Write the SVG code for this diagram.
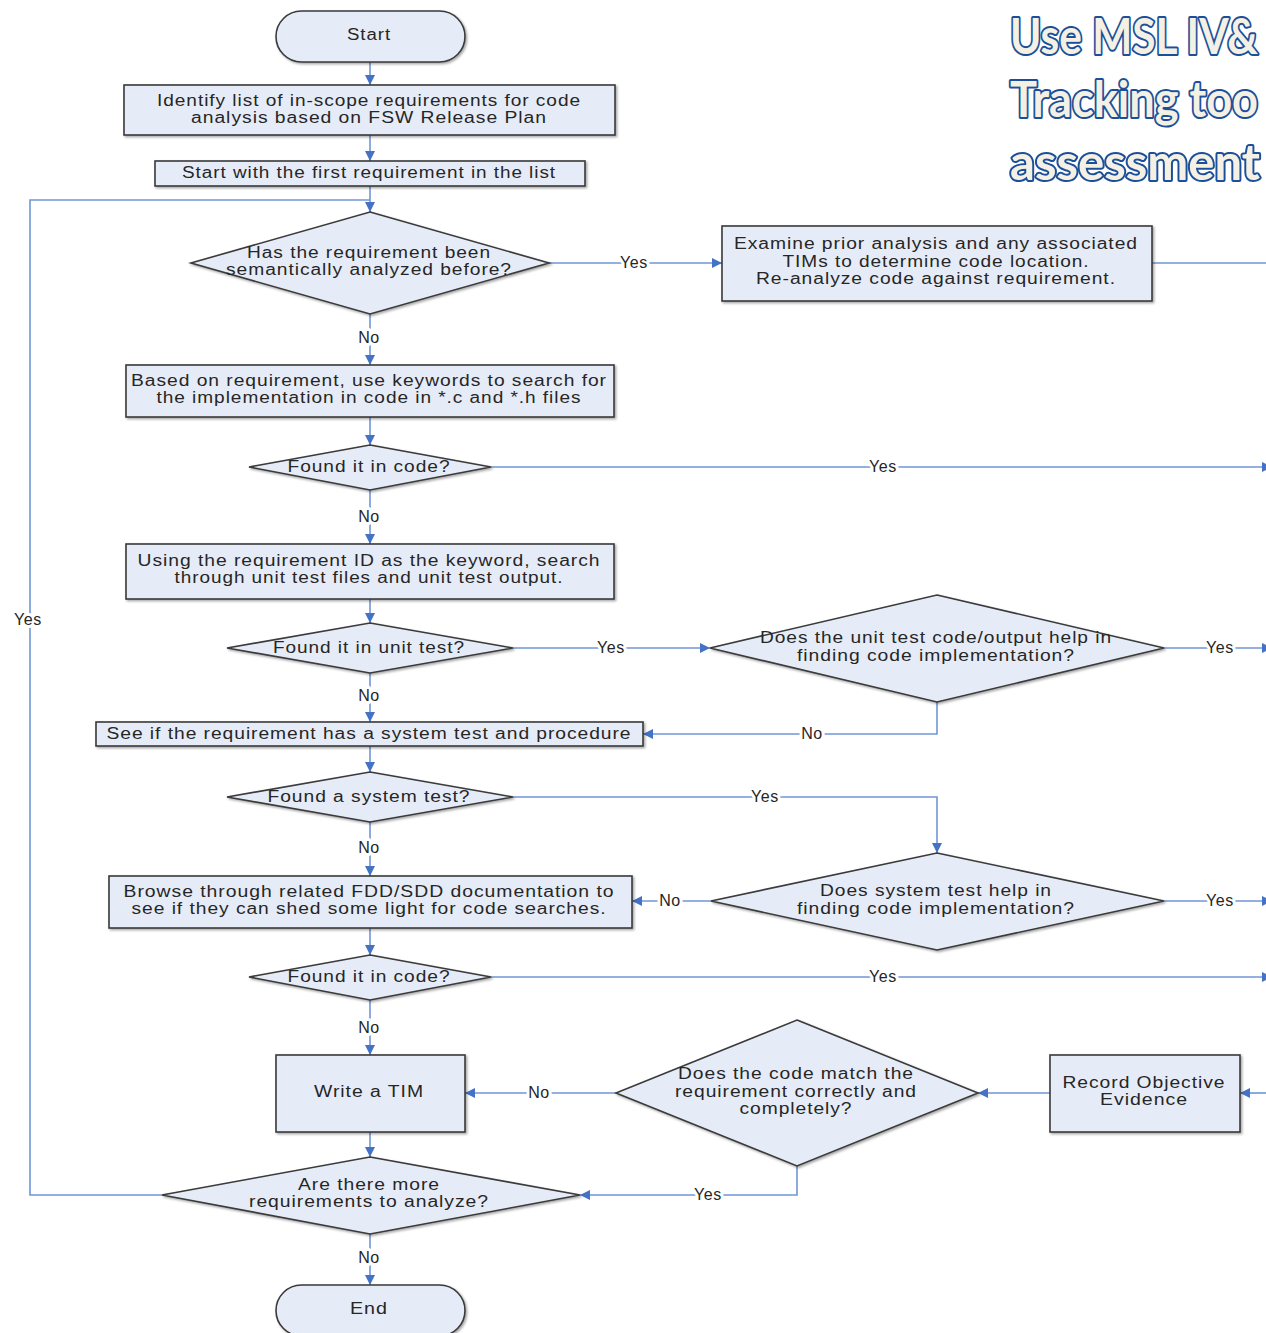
<svg xmlns="http://www.w3.org/2000/svg" width="1266" height="1333" viewBox="0 0 1266 1333">
  <defs>
    <marker id="arr" viewBox="0 0 10 10" refX="10" refY="5" markerWidth="10" markerHeight="10" markerUnits="userSpaceOnUse" orient="auto">
      <path d="M0,0 L10,5 L0,10 z" fill="#4472c4"/>
    </marker>
    <filter id="sh" x="-5%" y="-5%" width="115%" height="120%">
      <feDropShadow dx="1.5" dy="1.5" stdDeviation="0.8" flood-color="#000" flood-opacity="0.35"/>
    </filter>
  </defs>
  <style>
    .n { fill: #e6ecf7; stroke: #3a3a3a; stroke-width: 1.6; filter: url(#sh); }
    .t { font-family: "Liberation Sans", Arial, sans-serif; font-size: 16px; letter-spacing: 0.8px; fill: #262626; text-anchor: middle; }
    .c { fill: none; stroke: #6f96d6; stroke-width: 1.6; }
    .ca { fill: none; stroke: #6f96d6; stroke-width: 1.6; marker-end: url(#arr); }
    .l { font-family: "Liberation Sans", Arial, sans-serif; font-size: 16px; letter-spacing: 0.6px; fill: #262626; text-anchor: middle; stroke: #ffffff; stroke-width: 6px; paint-order: stroke; stroke-linejoin: round; }
    .title { font-family: Lato, "Open Sans", sans-serif; font-weight: bold; font-size: 49px; fill: #f4f1e4; stroke: #1c4f9a; stroke-width: 4px; paint-order: stroke; stroke-linejoin: round; }
  </style>

  <rect width="1266" height="1333" fill="#ffffff"/>

  <!-- title -->
  <g id="title">
    <text class="title" x="1010" y="54" textLength="248" lengthAdjust="spacingAndGlyphs">Use MSL IV&amp;</text>
    <text class="title" x="1010" y="117" textLength="248" lengthAdjust="spacingAndGlyphs">Tracking too</text>
    <text class="title" x="1010" y="180" textLength="250" lengthAdjust="spacingAndGlyphs">assessment</text>
  </g>

  <!-- connectors -->
  <g id="connectors">
    <path class="ca" d="M370,62 V85"/>
    <path class="ca" d="M370,135 V161"/>
    <path class="ca" d="M370,186 V212"/>
    <path class="ca" d="M549,263 H722"/>
    <path class="c" d="M1152,263 H1266"/>
    <path class="ca" d="M370,314 V365"/>
    <path class="ca" d="M370,417 V445"/>
    <path class="ca" d="M491,467 H1272"/>
    <path class="ca" d="M370,490 V544"/>
    <path class="ca" d="M370,599 V623"/>
    <path class="ca" d="M513,648 H710"/>
    <path class="ca" d="M1164,648 H1272"/>
    <path class="ca" d="M937,702 V734 H643"/>
    <path class="ca" d="M370,673 V722"/>
    <path class="ca" d="M370,746 V772"/>
    <path class="ca" d="M513,797 H937 V853"/>
    <path class="ca" d="M370,822 V876"/>
    <path class="ca" d="M711,901 H632"/>
    <path class="ca" d="M1164,901 H1272"/>
    <path class="ca" d="M370,928 V955"/>
    <path class="ca" d="M491,977 H1272"/>
    <path class="ca" d="M370,1000 V1055"/>
    <path class="ca" d="M616,1093 H465"/>
    <path class="ca" d="M1050,1093 H978"/>
    <path class="ca" d="M1266,1093 H1240"/>
    <path class="ca" d="M370,1132 V1157"/>
    <path class="ca" d="M797,1166 V1195 H580"/>
    <path class="c" d="M162,1195 H30 V200 H370"/>
    <path class="ca" d="M370,1234 V1285"/>

    <text class="l" x="634" y="268">Yes</text>
    <text class="l" x="369" y="343">No</text>
    <text class="l" x="883" y="472">Yes</text>
    <text class="l" x="369" y="522">No</text>
    <text class="l" x="611" y="653">Yes</text>
    <text class="l" x="1220" y="653">Yes</text>
    <text class="l" x="369" y="701">No</text>
    <text class="l" x="812" y="739">No</text>
    <text class="l" x="765" y="802">Yes</text>
    <text class="l" x="369" y="853">No</text>
    <text class="l" x="670" y="906">No</text>
    <text class="l" x="1220" y="906">Yes</text>
    <text class="l" x="883" y="982">Yes</text>
    <text class="l" x="369" y="1033">No</text>
    <text class="l" x="539" y="1098">No</text>
    <text class="l" x="708" y="1200">Yes</text>
    <text class="l" x="28" y="625">Yes</text>
    <text class="l" x="369" y="1263">No</text>
  </g>

  <!-- nodes -->
  <g id="start">
    <rect class="n" x="276" y="11" width="189" height="51" rx="25.5"/>
    <text class="t" x="369" y="40" textLength="44" lengthAdjust="spacingAndGlyphs">Start</text>
  </g>
  <g id="identify-list">
    <rect class="n" x="124" y="85" width="491" height="50"/>
    <text class="t" x="369" y="106" textLength="424" lengthAdjust="spacingAndGlyphs">Identify list of in-scope requirements for code</text>
    <text class="t" x="369" y="123" textLength="356" lengthAdjust="spacingAndGlyphs">analysis based on FSW Release Plan</text>
  </g>
  <g id="first-requirement">
    <rect class="n" x="155" y="161" width="430" height="25"/>
    <text class="t" x="369" y="178" textLength="374" lengthAdjust="spacingAndGlyphs">Start with the first requirement in the list</text>
  </g>
  <g id="analyzed-before">
    <polygon class="n" points="370,212 549,263 370,314 191,263"/>
    <text class="t" x="369" y="258" textLength="244" lengthAdjust="spacingAndGlyphs">Has the requirement been</text>
    <text class="t" x="369" y="275" textLength="286" lengthAdjust="spacingAndGlyphs">semantically analyzed before?</text>
  </g>
  <g id="examine-prior">
    <rect class="n" x="722" y="226" width="430" height="75"/>
    <text class="t" x="936" y="249" textLength="404" lengthAdjust="spacingAndGlyphs">Examine prior analysis and any associated</text>
    <text class="t" x="936" y="267" textLength="307" lengthAdjust="spacingAndGlyphs">TIMs to determine code location.</text>
    <text class="t" x="936" y="284" textLength="360" lengthAdjust="spacingAndGlyphs">Re-analyze code against requirement.</text>
  </g>
  <g id="keyword-search">
    <rect class="n" x="126" y="365" width="488" height="52"/>
    <text class="t" x="369" y="386" textLength="476" lengthAdjust="spacingAndGlyphs">Based on requirement, use keywords to search for</text>
    <text class="t" x="369" y="403" textLength="425" lengthAdjust="spacingAndGlyphs">the implementation in code in *.c and *.h files</text>
  </g>
  <g id="found-code-1">
    <polygon class="n" points="370,445 491,467 370,490 249,467"/>
    <text class="t" x="369" y="472" textLength="163" lengthAdjust="spacingAndGlyphs">Found it in code?</text>
  </g>
  <g id="unit-test-search">
    <rect class="n" x="126" y="544" width="488" height="55"/>
    <text class="t" x="369" y="566" textLength="463" lengthAdjust="spacingAndGlyphs">Using the requirement ID as the keyword, search</text>
    <text class="t" x="369" y="583" textLength="389" lengthAdjust="spacingAndGlyphs">through unit test files and unit test output.</text>
  </g>
  <g id="found-unit-test">
    <polygon class="n" points="370,623 513,648 370,673 227,648"/>
    <text class="t" x="369" y="653" textLength="192" lengthAdjust="spacingAndGlyphs">Found it in unit test?</text>
  </g>
  <g id="unit-test-help">
    <polygon class="n" points="937,595 1164,648 937,702 710,648"/>
    <text class="t" x="936" y="643" textLength="352" lengthAdjust="spacingAndGlyphs">Does the unit test code/output help in</text>
    <text class="t" x="936" y="661" textLength="278" lengthAdjust="spacingAndGlyphs">finding code implementation?</text>
  </g>
  <g id="system-test-check">
    <rect class="n" x="96" y="722" width="547" height="24"/>
    <text class="t" x="369" y="739" textLength="525" lengthAdjust="spacingAndGlyphs">See if the requirement has a system test and procedure</text>
  </g>
  <g id="found-system-test">
    <polygon class="n" points="370,772 513,797 370,822 227,797"/>
    <text class="t" x="369" y="802" textLength="203" lengthAdjust="spacingAndGlyphs">Found a system test?</text>
  </g>
  <g id="system-test-help">
    <polygon class="n" points="937,853 1164,901 937,950 711,901"/>
    <text class="t" x="936" y="896" textLength="232" lengthAdjust="spacingAndGlyphs">Does system test help in</text>
    <text class="t" x="936" y="914" textLength="278" lengthAdjust="spacingAndGlyphs">finding code implementation?</text>
  </g>
  <g id="browse-docs">
    <rect class="n" x="109" y="876" width="523" height="52"/>
    <text class="t" x="369" y="897" textLength="491" lengthAdjust="spacingAndGlyphs">Browse through related FDD/SDD documentation to</text>
    <text class="t" x="369" y="914" textLength="475" lengthAdjust="spacingAndGlyphs">see if they can shed some light for code searches.</text>
  </g>
  <g id="found-code-2">
    <polygon class="n" points="370,955 491,977 370,1000 249,977"/>
    <text class="t" x="369" y="982" textLength="163" lengthAdjust="spacingAndGlyphs">Found it in code?</text>
  </g>
  <g id="write-tim">
    <rect class="n" x="276" y="1055" width="189" height="77"/>
    <text class="t" x="369" y="1097" textLength="110" lengthAdjust="spacingAndGlyphs">Write a TIM</text>
  </g>
  <g id="code-match">
    <polygon class="n" points="797,1020 978,1093 797,1166 616,1093"/>
    <text class="t" x="796" y="1079" textLength="236" lengthAdjust="spacingAndGlyphs">Does the code match the</text>
    <text class="t" x="796" y="1097" textLength="242" lengthAdjust="spacingAndGlyphs">requirement correctly and</text>
    <text class="t" x="796" y="1114" textLength="113" lengthAdjust="spacingAndGlyphs">completely?</text>
  </g>
  <g id="record-evidence">
    <rect class="n" x="1050" y="1055" width="190" height="77"/>
    <text class="t" x="1144" y="1088" textLength="163" lengthAdjust="spacingAndGlyphs">Record Objective</text>
    <text class="t" x="1144" y="1105" textLength="88" lengthAdjust="spacingAndGlyphs">Evidence</text>
  </g>
  <g id="more-requirements">
    <polygon class="n" points="370,1157 580,1195 370,1234 162,1195"/>
    <text class="t" x="369" y="1190" textLength="142" lengthAdjust="spacingAndGlyphs">Are there more</text>
    <text class="t" x="369" y="1207" textLength="240" lengthAdjust="spacingAndGlyphs">requirements to analyze?</text>
  </g>
  <g id="end">
    <rect class="n" x="276" y="1285" width="189" height="51" rx="25.5"/>
    <text class="t" x="369" y="1314" textLength="38" lengthAdjust="spacingAndGlyphs">End</text>
  </g>
</svg>
